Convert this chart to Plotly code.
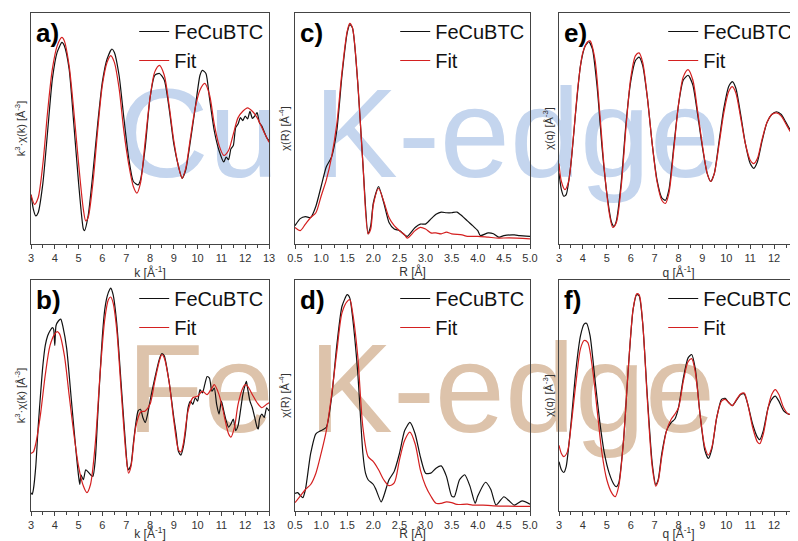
import plotly.graph_objects as go

# ---------------- data (arbitrary intensity units, 0-100) ----------------
# a) Cu K-edge, k-space
a_k_exp = [3.0,3.1,3.2,3.3,3.5,3.7,3.9,4.1,4.3,4.4,4.6,4.8,5.0,5.2,5.25,5.4,5.6,5.8,6.0,6.2,6.4,6.5,6.7,6.9,7.1,7.3,7.5,7.6,7.8,8.0,8.2,8.4,8.6,8.8,9.0,9.2,9.35,9.5,9.7,9.9,10.1,10.2,10.35,10.5,10.7,10.9,11.1,11.2,11.3,11.4,11.5,11.6,11.7,11.8,11.9,12.0,12.1,12.2,12.3,12.4,12.5,12.6,12.7,12.8,12.9,13.0]
a_y_exp = [19.8,13.3,10.4,11.8,24.9,48,71,82.7,87,85.5,75.4,50.9,24.9,4.6,3.9,10.4,29.2,50.9,69.7,79.8,84.1,82.7,72.5,53.8,36.4,25.6,24.1,26.3,40.8,62.4,72.5,73.3,70.4,58.1,42.2,32.1,27,30.6,43.6,58.1,72.5,74.7,73.3,62.4,48,39.3,34.2,36.4,35.2,40,41.5,49.4,51,53.8,52.5,54.5,53.2,56.6,53.5,54.5,56,51.5,50.1,47.5,45,43.6]
a_k_fit = [3.0,3.15,3.3,3.5,3.7,3.9,4.1,4.3,4.4,4.6,4.8,5.0,5.2,5.3,5.4,5.6,5.8,6.0,6.2,6.35,6.5,6.7,6.9,7.1,7.3,7.45,7.6,7.8,8.0,8.2,8.4,8.6,8.8,9.0,9.2,9.35,9.5,9.7,9.9,10.1,10.3,10.5,10.7,10.9,11.1,11.3,11.5,11.7,11.9,12.1,12.3,12.5,12.7,12.9,13.0]
a_y_fit = [19.8,15.5,18.4,33.5,56.6,75.4,85.5,89.2,87.7,76.9,56.6,33.5,13.3,8.2,9.7,24.9,48,68.2,78.3,81.2,78.3,66.8,48,33.5,23.4,20.5,24.9,43.6,62.4,74,76.9,72.5,59.5,43.6,32.1,27,31.4,45,58.1,66,68.9,63.9,50.9,41.6,37.1,39.3,46.5,53.8,56.6,58.1,56.6,53.8,49.4,45,42.9]

# c) Cu K-edge, R-space
c_r_exp = [0.5,0.6,0.7,0.8,0.9,1.0,1.1,1.2,1.3,1.4,1.5,1.55,1.6,1.7,1.8,1.9,1.95,2.0,2.1,2.2,2.3,2.4,2.5,2.6,2.65,2.8,2.9,3.0,3.1,3.2,3.3,3.4,3.5,3.6,3.7,3.8,3.9,4.0,4.05,4.2,4.3,4.4,4.5,4.7,4.8,5.0]
c_y_exp = [6.1,9.2,10.1,9.7,14.7,23.4,32.1,36.4,48,72.5,91.3,94.9,93.5,69.7,33.5,2.5,6.1,16.2,23.4,16.2,7.5,4.6,3.9,2,1.4,5.3,6.8,6.8,9,11.1,12.1,11.8,11.8,12.1,10.4,8.2,6.1,3.9,1.7,2.9,2.5,1,1.7,2,1.7,1.4]
c_r_fit = [0.5,0.6,0.7,0.8,0.9,1.0,1.1,1.2,1.3,1.4,1.5,1.55,1.6,1.7,1.8,1.9,1.95,2.0,2.1,2.2,2.3,2.4,2.5,2.6,2.65,2.8,2.9,3.0,3.1,3.2,3.3,3.4,3.5,3.7,3.8,4.0,4.2,4.4,4.6,5.0]
c_y_fit = [5.3,3.9,6.8,9.7,11.8,19.1,26.3,36.4,50.9,74,92,95.4,93.5,69.7,33.5,2.5,4.6,15.3,22.5,16.8,9.7,6.1,3.9,2,0.6,3.9,5.3,4.6,2.9,2.9,2.5,3.2,2.5,2,1.4,1.4,1,0.6,0.7,0.3]

# e) Cu K-edge, q-space
e_q_exp = [3.0,3.1,3.2,3.3,3.5,3.7,3.9,4.1,4.25,4.4,4.6,4.8,5.0,5.2,5.3,5.4,5.6,5.8,6.0,6.2,6.35,6.5,6.7,6.9,7.1,7.3,7.45,7.6,7.8,8.0,8.2,8.4,8.6,8.8,9.0,9.2,9.35,9.5,9.7,9.9,10.1,10.25,10.4,10.6,10.8,11.0,11.15,11.3,11.5,11.7,11.9,12.1,12.3,12.5,12.7,12.9,13.0]
e_y_exp = [29.2,22,19.1,19.8,33.5,56.6,76.9,85.5,87.3,84.1,66.8,40.8,20.5,7.5,5.8,8.2,24.9,50.9,69.7,79,80.5,76.9,62.4,42.2,26.3,18.4,17.3,22,40.8,59.5,70.4,72.5,68.2,55.2,40.8,29.2,25.6,29.2,43.6,58.1,67.6,69.7,66.8,55.2,42.2,33.5,31.4,34.2,43.6,51.6,55.2,56.4,55.2,51.6,48,46,45.1]
e_q_fit = [3.0,3.1,3.25,3.4,3.6,3.8,4.0,4.2,4.3,4.5,4.7,4.9,5.1,5.25,5.4,5.6,5.8,6.0,6.2,6.35,6.5,6.7,6.9,7.1,7.3,7.45,7.6,7.8,8.0,8.2,8.4,8.6,8.8,9.0,9.2,9.35,9.5,9.7,9.9,10.1,10.25,10.4,10.6,10.8,11.0,11.15,11.3,11.5,11.7,11.9,12.1,12.3,12.5,12.7,12.9,13.0]
e_y_fit = [33.5,25.6,22,25.6,45,68.2,82.7,87.3,87.7,79.8,56.6,30.6,11.8,5.3,7.5,23.1,49.1,71.1,81.2,82.4,78.3,62.4,42.2,25.6,17.3,15.9,20.5,39.3,59.5,71.8,75,70.4,56.6,41.6,29.2,25.6,29.2,42.2,56.1,65.3,67.5,64.7,53.8,42.2,35,33.5,35.7,44.4,51.6,55.2,55.9,54.5,50.9,47.3,45.1,44.8]

# b) Fe K-edge, k-space
b_k_exp = [3.0,3.05,3.1,3.2,3.3,3.4,3.5,3.6,3.7,3.8,3.9,3.95,4.0,4.05,4.15,4.25,4.35,4.5,4.7,4.9,5.0,5.05,5.1,5.2,5.3,5.4,5.5,5.6,5.7,5.8,5.9,6.0,6.1,6.2,6.3,6.35,6.45,6.6,6.8,7.0,7.05,7.1,7.2,7.3,7.4,7.5,7.6,7.7,7.8,7.9,8.0,8.2,8.4,8.5,8.6,8.8,9.0,9.1,9.2,9.3,9.4,9.5,9.6,9.7,9.8,9.9,10.0,10.1,10.2,10.3,10.4,10.5,10.6,10.7,10.8,10.9,11.0,11.1,11.2,11.3,11.4,11.5,11.6,11.7,11.8,11.9,12.0,12.05,12.1,12.2,12.3,12.4,12.5,12.55,12.6,12.7,12.8,12.9,13.0]
b_y_exp = [6.1,5.3,7.5,17.6,35,49.4,62.4,71.1,75.4,77.6,79,78.3,71.1,79.8,81.9,82.7,79,69.7,46.5,23.4,13.3,9.7,14,11.8,16.2,15.3,14,13.3,20.5,39.3,58.1,75.4,87,92.8,95.7,96.4,93.5,81.2,52.3,23.4,17.6,16.2,18.4,27.7,36.4,42.2,42.9,39.3,37.1,40.8,46.5,56.6,65.3,67.5,66.5,55.2,39.3,32.1,24.1,22.7,26.3,33.5,43.6,46.5,45.1,48,46.5,51.6,50.1,53.8,57.4,56.6,50.9,52.3,45.1,40.8,46.5,42.2,37.9,35,36.4,38.6,33.5,35.7,42.2,49.4,53.8,55.2,52.3,46.5,43.6,39.3,35,34.2,38.6,40.8,39.3,43.6,42.2]
b_k_fit = [3.0,3.1,3.2,3.4,3.6,3.8,4.0,4.1,4.2,4.4,4.6,4.8,5.0,5.2,5.35,5.5,5.7,5.9,6.1,6.25,6.35,6.45,6.6,6.8,7.0,7.1,7.2,7.4,7.6,7.8,8.0,8.2,8.4,8.5,8.6,8.8,9.0,9.2,9.3,9.4,9.6,9.8,10.0,10.2,10.4,10.6,10.7,10.9,11.1,11.3,11.4,11.55,11.7,11.9,12.0,12.1,12.3,12.5,12.7,12.9,13.0]
b_y_fit = [23.4,24.1,27.7,40.8,58.1,71.1,76.2,77.2,76.2,66.8,49.4,32.1,17.6,9,6.1,9.7,27.7,58.1,82.7,91.3,92.5,89.9,78.3,49.4,22,14.7,17.6,35,41.6,42.2,45.1,55.2,64.5,67.1,65.6,55.2,37.9,24.9,24.1,27.7,42.2,48,48.7,50.9,49.4,52.3,53.8,49.4,40.8,32.1,30.6,35,45.1,52.3,53.8,53.1,49.4,45.8,43.6,45.1,45.8]

# d) Fe K-edge, R-space
d_r_exp = [0.5,0.55,0.6,0.65,0.7,0.8,0.9,1.0,1.1,1.2,1.3,1.4,1.5,1.55,1.6,1.7,1.8,1.85,1.9,2.0,2.05,2.15,2.2,2.3,2.4,2.5,2.6,2.7,2.8,2.9,3.0,3.1,3.2,3.3,3.4,3.5,3.55,3.65,3.75,3.85,3.95,4.0,4.15,4.25,4.35,4.5,4.6,4.7,4.85,5.0]
d_y_exp = [5.8,6.1,4.9,3.9,7.5,23.4,32.1,33.5,35,48,71.1,88.4,93.5,92,84.1,59.5,23.4,14.7,11.8,9.7,7.5,2,4.6,11.8,15.5,23.4,33.5,37.1,32.1,22,14.7,14.7,16.9,17.9,13.3,4.6,4.3,11.8,14,9,1.4,4.6,10.7,7.5,0.6,4.3,2.5,0.6,2.5,1]
d_r_fit = [0.5,0.6,0.7,0.8,0.9,1.0,1.1,1.2,1.3,1.4,1.5,1.55,1.6,1.7,1.8,1.9,2.0,2.1,2.2,2.3,2.4,2.5,2.6,2.7,2.8,2.9,3.0,3.1,3.2,3.3,3.4,3.5,3.6,3.8,3.9,4.1,4.3,5.0]
d_y_fit = [1.7,4.6,7.5,9.7,14.7,23.4,33.5,49.1,68.2,85.5,90.6,91.3,86.1,66.8,35,22,19.8,16.2,11.8,9.2,10.4,20.5,29.2,32.8,27.7,16.2,9,4.6,1.4,1.4,2,1.7,0.9,1,0.6,0.6,0.3,0]

# f) Fe K-edge, q-space
f_q_exp = [3.0,3.1,3.2,3.3,3.5,3.7,3.9,4.05,4.15,4.3,4.5,4.7,4.9,5.1,5.3,5.4,5.5,5.7,5.9,6.1,6.25,6.35,6.5,6.7,6.9,7.05,7.15,7.3,7.5,7.7,7.85,8.0,8.2,8.4,8.55,8.7,8.9,9.1,9.25,9.4,9.6,9.8,9.95,10.1,10.25,10.4,10.6,10.75,10.9,11.1,11.3,11.4,11.55,11.75,11.9,12.05,12.2,12.4,12.6,12.8,12.9,13.0]
f_y_exp = [19.8,16.2,15,17.6,36.4,59.5,75.4,80.5,80.9,75.4,56.6,37.9,23.4,14.7,9.7,8.7,10.4,29.2,61,87,93.5,93.1,81.2,48,19.1,9.7,11.8,23.4,33.5,37.1,38.6,43.6,56.6,65.6,67.1,61,40.8,24.9,21.2,25.6,39.3,47.3,47.7,45.9,44.5,46.5,49.4,49.7,45.1,36.4,30.6,29.5,33.5,43.6,47.3,48.7,46.5,42.2,40.8,40.8,42.2,42.9]
f_q_fit = [3.0,3.1,3.2,3.35,3.5,3.7,3.9,4.05,4.2,4.4,4.6,4.8,5.0,5.2,5.35,5.5,5.7,5.9,6.1,6.25,6.35,6.5,6.7,6.9,7.05,7.15,7.3,7.5,7.7,7.85,8.0,8.2,8.4,8.55,8.7,8.9,9.1,9.25,9.4,9.6,9.8,9.95,10.1,10.25,10.4,10.6,10.75,10.9,11.1,11.3,11.4,11.55,11.75,11.9,12.05,12.2,12.4,12.6,12.8,12.9,13.0]
f_y_fit = [27,23.4,22,24.1,35,53.8,69.7,73.3,72.5,61,42.2,23.4,11.8,6.1,4.3,9,29.2,61,87,93.9,93.5,81.2,46.5,17.6,9,11.3,22,33.5,38.6,40.8,43.6,55.2,63.9,65.3,59.5,40.8,26.3,22.7,26.3,39.3,46.5,47.3,45.9,44.5,46.8,49.7,50.1,45.1,35,28.5,27.7,32.1,43.6,49.4,51.6,49.4,43.6,40.8,41.1,42,42.5]

series_names = ["FeCuBTC", "Fit"]
panel_labels = ["a)", "c)", "e)", "b)", "d)", "f)"]
x_titles = ["k [Å<sup>-1</sup>]", "R [Å]", "q [Å<sup>-1</sup>]"]
y_titles = ["k<sup>3</sup>·χ(k) [Å<sup>-3</sup>]", "χ(R) [Å<sup>-4</sup>]", "χ(q) [Å<sup>-3</sup>]"]
x_ranges = [[3, 13], [0.5, 5.0], [3, 13]]
x_dticks = [1, 0.5, 1]
watermarks = ["Cu K-edge", "Fe K-edge"]

panels = [  # (row, col, exp x, exp y, fit x, fit y)
    (0, 0, a_k_exp, a_y_exp, a_k_fit, a_y_fit),
    (0, 1, c_r_exp, c_y_exp, c_r_fit, c_y_fit),
    (0, 2, e_q_exp, e_y_exp, e_q_fit, e_y_fit),
    (1, 0, b_k_exp, b_y_exp, b_k_fit, b_y_fit),
    (1, 1, d_r_exp, d_y_exp, d_r_fit, d_y_fit),
    (1, 2, f_q_exp, f_y_exp, f_q_fit, f_y_fit),
]

# page is offset by the browser's default 8px body margin
OFF = 8
W, H = 798 - OFF, 541 - OFF
col_px = [(31, 269), (295, 530), (559, 798)]   # in window pixels
row_px = [(13, 244), (280, 511)]


def px_x(p):
    return (p - OFF) / W


def px_y(p):
    return 1 - (p - OFF) / H


fig = go.Figure()
layout = dict(
    width=W, height=H, margin=dict(l=0, r=0, t=0, b=0),
    paper_bgcolor="white", plot_bgcolor="rgba(0,0,0,0)",
    font=dict(family="Liberation Sans, Arial, sans-serif", color="#333"),
    showlegend=True,
)
annotations = []
shapes = []

for i, (r, c, xe, ye, xf, yf) in enumerate(panels):
    n = i + 1
    xa = "x" if n == 1 else f"x{n}"
    ya = "y" if n == 1 else f"y{n}"
    lg = "legend" if n == 1 else f"legend{n}"
    fig.add_trace(go.Scatter(x=xe, y=ye, mode="lines", name=series_names[0],
                             line=dict(color="#111111", width=1.2, shape="spline", smoothing=0.6),
                             xaxis=xa, yaxis=ya, legend=lg))
    fig.add_trace(go.Scatter(x=xf, y=yf, mode="lines", name=series_names[1],
                             line=dict(color="#d42020", width=1.2, shape="spline", smoothing=0.8),
                             xaxis=xa, yaxis=ya, legend=lg))
    x0, x1 = col_px[c]
    y0, y1 = row_px[r]
    xd = [px_x(x0), min(1.0, px_x(x1))]
    yd = [px_y(y1), px_y(y0)]
    axkey = "xaxis" if n == 1 else f"xaxis{n}"
    aykey = "yaxis" if n == 1 else f"yaxis{n}"
    layout[axkey] = dict(
        domain=xd, anchor=ya, range=x_ranges[c], dtick=x_dticks[c],
        tickformat=".1f" if c == 1 else "d",
        showline=True, mirror=True, linecolor="#444", linewidth=1.2,
        ticks="outside", ticklen=4, tickcolor="#444", tickwidth=1,
        minor=dict(ticks="outside", ticklen=2.5, tickcolor="#444", dtick=x_dticks[c] / 2),
        showgrid=False, zeroline=False,
        tickfont=dict(size=11, color="#333"),
        title=dict(text=x_titles[c], font=dict(size=12, color="#333"), standoff=3),
        automargin=False,
    )
    layout[aykey] = dict(
        domain=yd, anchor=xa, range=[-2, 100],
        showline=True, mirror=True, linecolor="#444", linewidth=1.2,
        showticklabels=False, ticks="", showgrid=False, zeroline=False,
        title=dict(text=y_titles[c], font=dict(size=11, color="#333"), standoff=2),
        automargin=False,
    )
    layout[lg] = dict(
        x=px_x(x1) - 0.001, xanchor="right", y=px_y(y0 - 1), yanchor="top",
        bgcolor="rgba(0,0,0,0)", borderwidth=0,
        font=dict(size=20, color="#111"), tracegroupgap=0, itemwidth=30,
    )
    annotations.append(dict(
        text="<b>" + panel_labels[i] + "</b>", xref="paper", yref="paper",
        x=px_x(x0 + 3), xanchor="left", y=px_y(y0 + 3), yanchor="top",
        showarrow=False, font=dict(size=26, color="#000"),
    ))

# watermarks behind the curves
wm_colors = ["#c4d5ee", "#ddc3ab"]
wm_cx = [419, 421]        # window pixels
wm_cy = [121, 376]
for j, txt in enumerate(watermarks):
    cx, cy = wm_cx[j], wm_cy[j]
    shapes.append(dict(
        type="rect", xref="paper", yref="paper", layer="below",
        x0=px_x(cx - 330), x1=px_x(cx + 330), y0=px_y(cy + 60), y1=px_y(cy - 60),
        line=dict(width=0), fillcolor="rgba(0,0,0,0)",
        label=dict(text=txt, textposition="middle center",
                   font=dict(size=126, color=wm_colors[j], family="Liberation Sans, Arial, sans-serif")),
    ))

layout["annotations"] = annotations
layout["shapes"] = shapes
fig.update_layout(**layout)
fig.write_html("out.html")
